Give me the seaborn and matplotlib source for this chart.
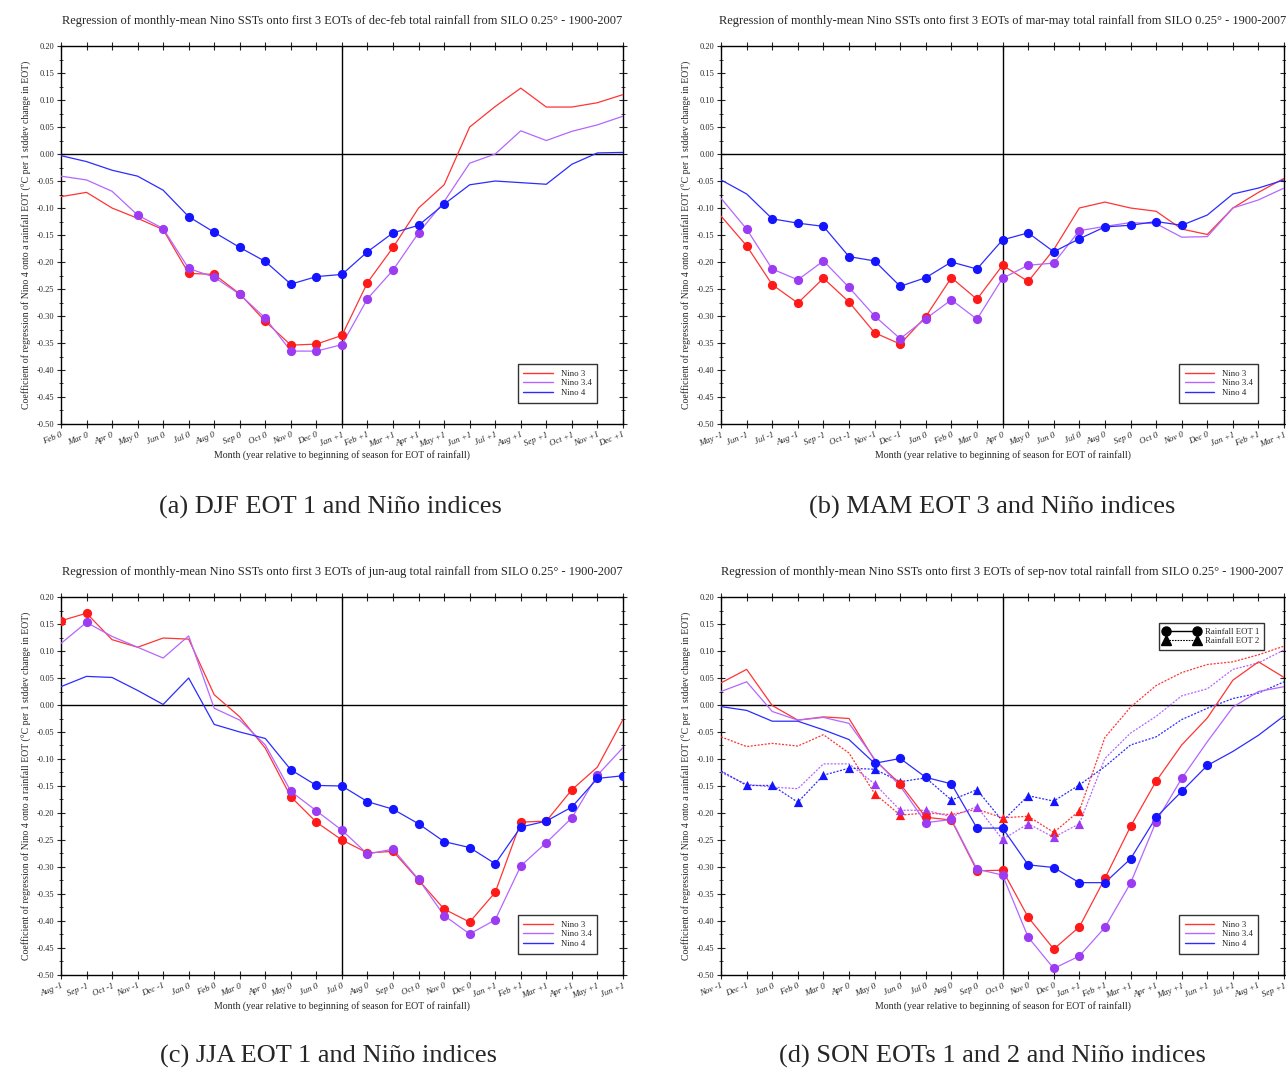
import numpy as np
import pandas as pd
import matplotlib
matplotlib.use("Agg")
import matplotlib.pyplot as plt
from matplotlib.lines import Line2D
from matplotlib.ticker import MultipleLocator, FormatStrFormatter
import seaborn as sns

# ---------------------------------------------------------------
# Month labels along the x axis of each season panel
# ---------------------------------------------------------------
months_djf = ["Feb 0", "Mar 0", "Apr 0", "May 0", "Jun 0", "Jul 0", "Aug 0", "Sep 0",
              "Oct 0", "Nov 0", "Dec 0", "Jan +1", "Feb +1", "Mar +1", "Apr +1", "May +1",
              "Jun +1", "Jul +1", "Aug +1", "Sep +1", "Oct +1", "Nov +1", "Dec +1"]
months_mam = ["May -1", "Jun -1", "Jul -1", "Aug -1", "Sep -1", "Oct -1", "Nov -1", "Dec -1",
              "Jan 0", "Feb 0", "Mar 0", "Apr 0", "May 0", "Jun 0", "Jul 0", "Aug 0",
              "Sep 0", "Oct 0", "Nov 0", "Dec 0", "Jan +1", "Feb +1", "Mar +1"]
months_jja = ["Aug -1", "Sep -1", "Oct -1", "Nov -1", "Dec -1", "Jan 0", "Feb 0", "Mar 0",
              "Apr 0", "May 0", "Jun 0", "Jul 0", "Aug 0", "Sep 0", "Oct 0", "Nov 0",
              "Dec 0", "Jan +1", "Feb +1", "Mar +1", "Apr +1", "May +1", "Jun +1"]
months_son = ["Nov -1", "Dec -1", "Jan 0", "Feb 0", "Mar 0", "Apr 0", "May 0", "Jun 0",
              "Jul 0", "Aug 0", "Sep 0", "Oct 0", "Nov 0", "Dec 0", "Jan +1", "Feb +1",
              "Mar +1", "Apr +1", "May +1", "Jun +1", "Jul +1", "Aug +1", "Sep +1"]

# ---------------------------------------------------------------
# (a) DJF EOT 1 -- values and indices of the months that carry a dot
# ---------------------------------------------------------------
djf_nino3 = [-0.079, -0.071, -0.100, -0.119, -0.140, -0.221, -0.223, -0.259, -0.310, -0.354,
             -0.352, -0.336, -0.238, -0.173, -0.100, -0.057, 0.050, 0.088, 0.122, 0.087,
             0.087, 0.095, 0.110]
djf_nino34 = [-0.041, -0.048, -0.069, -0.113, -0.138, -0.212, -0.228, -0.260, -0.304, -0.365,
              -0.365, -0.353, -0.268, -0.215, -0.146, -0.088, -0.017, 0.000, 0.043, 0.025,
              0.042, 0.054, 0.070]
djf_nino4 = [-0.003, -0.014, -0.030, -0.041, -0.067, -0.116, -0.145, -0.173, -0.199, -0.241,
             -0.227, -0.223, -0.181, -0.146, -0.132, -0.093, -0.057, -0.050, -0.053, -0.056,
             -0.019, 0.002, 0.003]
djf_nino3_dots = [5, 6, 7, 8, 9, 10, 11, 12, 13]
djf_nino34_dots = [3, 4, 5, 6, 7, 8, 9, 10, 11, 12, 13, 14]
djf_nino4_dots = [5, 6, 7, 8, 9, 10, 11, 12, 13, 14, 15]

# ---------------------------------------------------------------
# (b) MAM EOT 3
# ---------------------------------------------------------------
mam_nino3 = [-0.115, -0.170, -0.242, -0.276, -0.230, -0.274, -0.331, -0.352, -0.301, -0.229,
             -0.269, -0.206, -0.236, -0.177, -0.100, -0.089, -0.100, -0.106, -0.139, -0.149,
             -0.100, -0.071, -0.045]
mam_nino34 = [-0.082, -0.139, -0.213, -0.233, -0.198, -0.247, -0.300, -0.342, -0.305, -0.270,
              -0.306, -0.230, -0.206, -0.202, -0.142, -0.134, -0.127, -0.129, -0.154, -0.153,
              -0.100, -0.085, -0.063]
mam_nino4 = [-0.048, -0.074, -0.120, -0.128, -0.134, -0.190, -0.198, -0.245, -0.229, -0.200,
             -0.213, -0.159, -0.146, -0.181, -0.157, -0.135, -0.132, -0.125, -0.132, -0.113,
             -0.074, -0.063, -0.048]
mam_nino3_dots = list(range(1, 13))
mam_nino34_dots = list(range(1, 15))
mam_nino4_dots = list(range(2, 19))

# ---------------------------------------------------------------
# (c) JJA EOT 1
# ---------------------------------------------------------------
jja_nino3 = [0.156, 0.170, 0.121, 0.107, 0.124, 0.122, 0.019, -0.022, -0.080, -0.170,
             -0.217, -0.250, -0.274, -0.271, -0.324, -0.378, -0.402, -0.347, -0.217, -0.215,
             -0.157, -0.115, -0.027]
jja_nino34 = [0.114, 0.153, 0.127, 0.107, 0.087, 0.128, -0.006, -0.028, -0.074, -0.160,
              -0.196, -0.232, -0.276, -0.267, -0.323, -0.390, -0.424, -0.398, -0.298, -0.255,
              -0.209, -0.130, -0.079]
jja_nino4 = [0.034, 0.053, 0.051, 0.027, 0.001, 0.050, -0.036, -0.050, -0.062, -0.120,
             -0.149, -0.150, -0.179, -0.193, -0.220, -0.253, -0.264, -0.294, -0.226, -0.215,
             -0.189, -0.136, -0.131]
jja_nino3_dots = [0, 1] + list(range(9, 21))
jja_nino34_dots = [1] + list(range(9, 22))
jja_nino4_dots = list(range(9, 23))

# ---------------------------------------------------------------
# (d) SON EOTs 1 (solid, circles) and 2 (dotted, triangles)
# ---------------------------------------------------------------
son1_nino3 = [0.041, 0.066, -0.001, -0.028, -0.022, -0.025, -0.102, -0.146, -0.208, -0.213,
              -0.307, -0.306, -0.393, -0.452, -0.411, -0.321, -0.225, -0.141, -0.074, -0.024,
              0.046, 0.080, 0.051]
son1_nino34 = [0.025, 0.043, -0.012, -0.028, -0.023, -0.034, -0.100, -0.150, -0.218, -0.212,
               -0.304, -0.315, -0.430, -0.488, -0.465, -0.412, -0.330, -0.216, -0.136, -0.068,
               -0.004, 0.025, 0.034]
son1_nino4 = [-0.003, -0.010, -0.030, -0.030, -0.046, -0.064, -0.108, -0.099, -0.134, -0.146,
              -0.228, -0.228, -0.296, -0.301, -0.329, -0.329, -0.285, -0.208, -0.160, -0.112,
              -0.086, -0.056, -0.020]
son2_nino3 = [-0.059, -0.077, -0.071, -0.076, -0.055, -0.089, -0.164, -0.204, -0.200, -0.203,
              -0.193, -0.209, -0.206, -0.236, -0.196, -0.060, -0.004, 0.036, 0.060, 0.075,
              0.080, 0.093, 0.109]
son2_nino34 = [-0.125, -0.147, -0.152, -0.155, -0.109, -0.109, -0.146, -0.195, -0.195, -0.207,
               -0.188, -0.249, -0.220, -0.245, -0.220, -0.099, -0.052, -0.021, 0.017, 0.030,
               0.066, 0.078, 0.102]
son2_nino4 = [-0.122, -0.149, -0.149, -0.180, -0.130, -0.117, -0.119, -0.142, -0.135, -0.176,
              -0.157, -0.215, -0.168, -0.178, -0.148, -0.114, -0.074, -0.059, -0.027, -0.006,
              0.012, 0.022, 0.043]
son1_nino3_dots = list(range(7, 18))
son1_nino34_dots = list(range(8, 19))
son1_nino4_dots = list(range(6, 20))
son2_nino3_dots = [6, 7, 8, 9, 11, 12, 13, 14]
son2_nino34_dots = list(range(6, 15))
son2_nino4_dots = [1, 2, 3, 4, 5, 6, 7, 9, 10, 12, 13, 14]

TITLE = ("Regression of monthly-mean Nino SSTs onto first 3 EOTs of {} total rainfall "
         "from SILO 0.25\u00b0 - 1900-2007")
XLABEL = "Month (year relative to beginning of season for EOT of rainfall)"
YLABEL = "Coefficient of regression of Nino 4 onto a rainfall EOT (\u00b0C per 1 stddev change in EOT)"

LINE_COLORS = {"Nino 3": "#ff3434", "Nino 3.4": "#b466ff", "Nino 4": "#2c2cff"}
DOT_COLORS = {"Nino 3": "#ff1a1a", "Nino 3.4": "#9c3cf2", "Nino 4": "#1414ff"}

sns.set_theme(style="ticks")
plt.rcParams["font.family"] = ["Liberation Serif", "DejaVu Serif"]
plt.rcParams["axes.unicode_minus"] = False


def draw_series(ax, values, dots, name, dashed=False):
    df = pd.DataFrame({"month": np.arange(len(values)), "coef": values})
    style = (0, (1.6, 1.2)) if dashed else "-"
    sns.lineplot(data=df, x="month", y="coef", color=LINE_COLORS[name], lw=0.9,
                 linestyle=style, ax=ax, zorder=3)
    sig = df.iloc[dots]
    sns.scatterplot(data=sig, x="month", y="coef", color=DOT_COLORS[name],
                    marker="^" if dashed else "o", s=44, linewidth=0, ax=ax, zorder=4)


def style_axes(ax, months, season):
    ax.set_xlim(0, len(months) - 1)
    ax.set_ylim(-0.5, 0.2)
    ax.axhline(0, color="black", lw=1.0, zorder=2)
    ax.axvline(11, color="black", lw=1.0, zorder=2)
    ax.set_xticks(np.arange(len(months)))
    ax.set_xticklabels(months, rotation=22, ha="right", rotation_mode="anchor",
                       fontsize=6.3, fontstyle="italic")
    ax.yaxis.set_major_locator(MultipleLocator(0.05))
    ax.yaxis.set_minor_locator(MultipleLocator(0.025))
    ax.yaxis.set_major_formatter(FormatStrFormatter("%.2f"))
    ax.tick_params(axis="y", labelsize=6, direction="inout", length=6, width=0.8,
                   right=True, pad=2)
    ax.tick_params(axis="y", which="minor", direction="inout", length=3, width=0.6, right=True)
    ax.tick_params(axis="x", direction="inout", length=6, width=0.8, top=True, pad=2)
    for sp in ax.spines.values():
        sp.set_linewidth(1.0)
        sp.set_color("black")
    ax.set_title(TITLE.format(season), fontsize=8.9, pad=16)
    ax.set_xlabel(XLABEL, fontsize=7.1, labelpad=1)
    ax.set_ylabel(YLABEL, fontsize=7.0, labelpad=3)

    handles = [Line2D([0], [0], color=LINE_COLORS[n], lw=1.0) for n in LINE_COLORS]
    leg = ax.legend(handles, list(LINE_COLORS), loc="lower right",
                    bbox_to_anchor=(0.962, 0.045), fontsize=6.3, frameon=True,
                    fancybox=False, edgecolor="black", handlelength=3.4,
                    borderpad=0.6, labelspacing=0.2, handletextpad=0.9)
    leg.get_frame().set_linewidth(1.0)
    return leg


fig = plt.figure(figsize=(12.86, 10.68), dpi=100)
ax_a = fig.add_axes([0.0474, 0.6030, 0.4370, 0.3539])
ax_b = fig.add_axes([0.5607, 0.6030, 0.4378, 0.3539])
ax_c = fig.add_axes([0.0474, 0.0871, 0.4370, 0.3539])
ax_d = fig.add_axes([0.5607, 0.0871, 0.4378, 0.3539])

for ax, months, season, series in [
    (ax_a, months_djf, "dec-feb", [(djf_nino3, djf_nino3_dots), (djf_nino34, djf_nino34_dots), (djf_nino4, djf_nino4_dots)]),
    (ax_b, months_mam, "mar-may", [(mam_nino3, mam_nino3_dots), (mam_nino34, mam_nino34_dots), (mam_nino4, mam_nino4_dots)]),
    (ax_c, months_jja, "jun-aug", [(jja_nino3, jja_nino3_dots), (jja_nino34, jja_nino34_dots), (jja_nino4, jja_nino4_dots)]),
]:
    for name, (vals, dots) in zip(LINE_COLORS, series):
        draw_series(ax, vals, dots, name)
    style_axes(ax, months, season)

# SON panel: two EOTs per index
son_eot1 = [(son1_nino3, son1_nino3_dots), (son1_nino34, son1_nino34_dots), (son1_nino4, son1_nino4_dots)]
son_eot2 = [(son2_nino3, son2_nino3_dots), (son2_nino34, son2_nino34_dots), (son2_nino4, son2_nino4_dots)]
for name, (vals, dots) in zip(LINE_COLORS, son_eot2):
    draw_series(ax_d, vals, dots, name, dashed=True)
for name, (vals, dots) in zip(LINE_COLORS, son_eot1):
    draw_series(ax_d, vals, dots, name)
nino_leg = style_axes(ax_d, months_son, "sep-nov")
ax_d.add_artist(nino_leg)
eot_handles = [Line2D([0], [0], color="black", lw=1.0, marker="o", markersize=6.5),
               Line2D([0], [0], color="black", lw=0.8, ls=(0, (1.5, 1)), marker="^", markersize=6.5)]
eot_leg = ax_d.legend(eot_handles, ["Rainfall EOT 1", "Rainfall EOT 2"], loc="upper right",
                      bbox_to_anchor=(0.972, 0.942), fontsize=6.3, frameon=True, fancybox=False,
                      edgecolor="black", handlelength=4.2, numpoints=2, borderpad=0.5,
                      labelspacing=0.15, handletextpad=0.6)
eot_leg.get_frame().set_linewidth(1.0)

captions = [(0.2566, 0.525, "(a) DJF EOT 1 and Ni\u00f1o indices"),
            (0.7714, 0.525, "(b) MAM EOT 3 and Ni\u00f1o indices"),
            (0.2558, 0.0112, "(c) JJA EOT 1 and Ni\u00f1o indices"),
            (0.7720, 0.0112, "(d) SON EOTs 1 and 2 and Ni\u00f1o indices")]
for x, y, text in captions:
    fig.text(x, y, text, ha="center", va="center", fontsize=19)

fig.savefig("out.png", dpi=100)
